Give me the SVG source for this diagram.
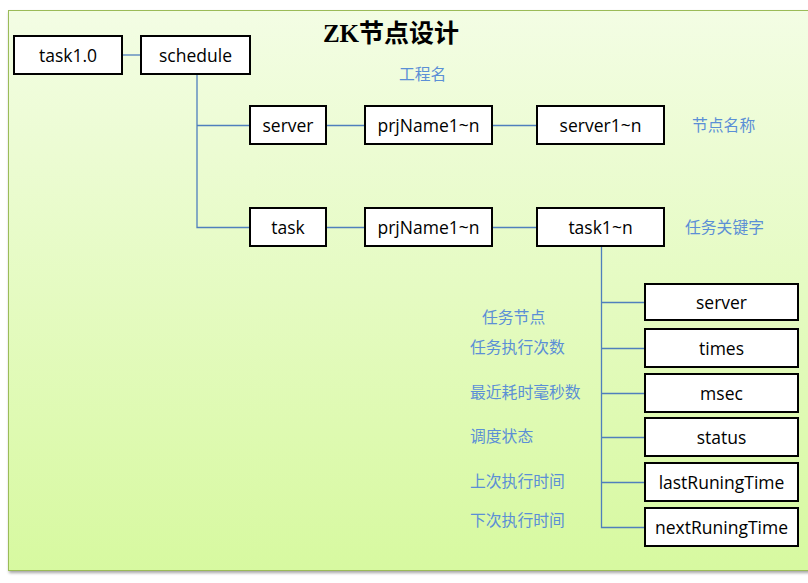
<svg xmlns="http://www.w3.org/2000/svg" width="808" height="583" viewBox="0 0 808 583">
<defs>
<linearGradient id="bg" x1="0" y1="0" x2="0" y2="1">
<stop offset="0" stop-color="#f3fde4"/>
<stop offset="1" stop-color="#d7f9a0"/>
</linearGradient>
<filter id="sh" x="-5%" y="-5%" width="110%" height="110%">
<feDropShadow dx="1" dy="2" stdDeviation="1.5" flood-color="#000" flood-opacity="0.35"/>
</filter>
</defs>
<style>
.box{fill:#fff;stroke:#000;stroke-width:2}
.bt{font-family:"Open Sans","Liberation Sans",sans-serif;font-size:17.5px;fill:#000;text-anchor:middle;dominant-baseline:central}
.lb{font-family:"Noto Sans CJK SC",sans-serif;font-size:15.8px;fill:#5b8fd6}
.cn{stroke:#4f7fbd;stroke-width:1.3;fill:none}
</style>
<rect x="0" y="0" width="808" height="583" fill="#fff"/>
<rect x="8.5" y="10.5" width="820" height="560" fill="url(#bg)" stroke="#9bbb59" stroke-width="1" filter="url(#sh)"/>
<text x="391" y="42" text-anchor="middle" font-family="'Liberation Serif','Noto Sans CJK SC',serif" font-weight="bold" font-size="25" fill="#000">ZK节点设计</text>
<g id="connectors">
<path class="cn" d="M122 55H141"/>
<path class="cn" d="M197 74V227.5H250M197 125.5H250"/>
<path class="cn" d="M326 125.5H365M492 125.5H537"/>
<path class="cn" d="M326 227.5H365M492 227.5H537"/>
<path class="cn" d="M601.5 246V527.5H645M601.5 302.5H645M601.5 348.5H645M601.5 393.5H645M601.5 437.5H645M601.5 482.5H645"/>
</g>
<g id="n-task10"><rect class="box" x="14" y="36" width="108" height="38"/><text class="bt" x="68" y="55">task1.0</text></g>
<g id="n-schedule"><rect class="box" x="141" y="36" width="109" height="38"/><text class="bt" x="195.5" y="55">schedule</text></g>
<g id="n-server"><rect class="box" x="250" y="106" width="76" height="38"/><text class="bt" x="288" y="125">server</text></g>
<g id="n-prj1"><rect class="box" x="365" y="106" width="127" height="38"/><text class="bt" x="428.5" y="125">prjName1~n</text></g>
<g id="n-server1n"><rect class="box" x="537" y="106" width="127" height="38"/><text class="bt" x="600.5" y="125">server1~n</text></g>
<g id="n-task"><rect class="box" x="250" y="208" width="76" height="38"/><text class="bt" x="288" y="227">task</text></g>
<g id="n-prj2"><rect class="box" x="365" y="208" width="127" height="38"/><text class="bt" x="428.5" y="227">prjName1~n</text></g>
<g id="n-task1n"><rect class="box" x="537" y="208" width="127" height="38"/><text class="bt" x="600.5" y="227">task1~n</text></g>
<g id="n-tserver"><rect class="box" x="645" y="284" width="153" height="36"/><text class="bt" x="721.5" y="302">server</text></g>
<g id="n-times"><rect class="box" x="645" y="329" width="153" height="38"/><text class="bt" x="721.5" y="348">times</text></g>
<g id="n-msec"><rect class="box" x="645" y="374" width="153" height="38"/><text class="bt" x="721.5" y="393">msec</text></g>
<g id="n-status"><rect class="box" x="645" y="418" width="153" height="38"/><text class="bt" x="721.5" y="437">status</text></g>
<g id="n-last"><rect class="box" x="645" y="463" width="153" height="38"/><text class="bt" x="721.5" y="482">lastRuningTime</text></g>
<g id="n-next"><rect class="box" x="645" y="508" width="153" height="38"/><text class="bt" x="721.5" y="527">nextRuningTime</text></g>
<g id="labels">
<text class="lb" x="399" y="80">工程名</text>
<text class="lb" x="692" y="131">节点名称</text>
<text class="lb" x="685" y="233">任务关键字</text>
<text class="lb" x="482" y="323">任务节点</text>
<text class="lb" x="470" y="353">任务执行次数</text>
<text class="lb" x="470" y="398">最近耗时毫秒数</text>
<text class="lb" x="470" y="442">调度状态</text>
<text class="lb" x="470" y="487">上次执行时间</text>
<text class="lb" x="470" y="526">下次执行时间</text>
</g>
</svg>
